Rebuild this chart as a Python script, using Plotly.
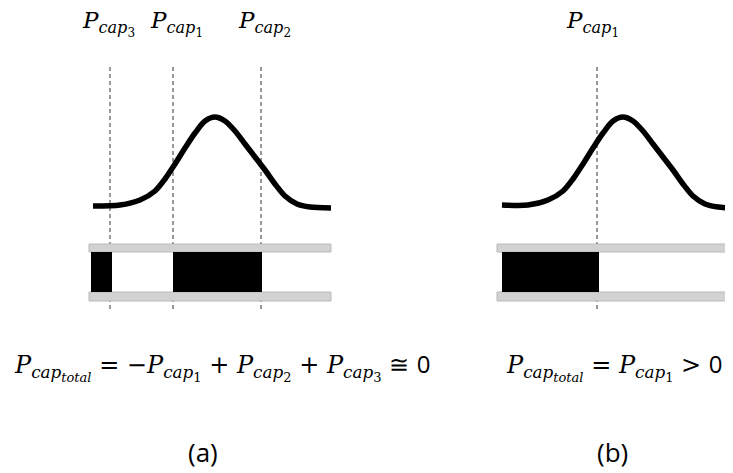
import plotly.graph_objects as go

# ---- data (diagram units = pixels of the 733x473 canvas) ----
curve_a_x = [93, 120, 140, 155, 165, 175, 185, 195, 205, 215, 225, 235, 245, 255, 265, 275, 285, 297, 310, 331]
curve_a_y = [206, 205, 200, 191, 179, 164, 148, 133, 121, 117, 121, 131, 144, 157, 170, 184, 196, 204, 207, 208]
curve_b_x = [502, 528, 548, 563, 573, 583, 593, 603, 613, 623, 633, 643, 653, 663, 673, 683, 693, 705, 718, 732]
curve_b_y = [205, 205, 200, 191, 179, 164, 148, 133, 121, 117, 121, 131, 144, 157, 170, 184, 196, 204, 207, 208]

cut_a = [110, 173, 261]           # dashed cut positions, panel (a)
cut_b = [597]                     # panel (b)
cut_labels_a = ["3", "1", "2"]
cut_labels_b = ["1"]

bar_a = [89, 331]                 # tube extent
bar_b = [497, 733]
black_a = [(91, 112), (173, 262)] # filled segments
black_b = [(502, 599)]

SERIF = "DejaVu Serif"
SANS = "Open Sans"
FS = 23
FS_EQ = 24
OFF = 8  # page body margin

def sub2(s, italic=False, size=12):
    st = f"font-size:{size}px;baseline-shift:-4px"
    if italic:
        st += ";font-style:italic"
    return f'<span style="{st}">{s}</span>'

def plabel(n, size=12):
    return f"<i>P</i><sub><i>cap</i>{sub2(n, size=size)}</sub>"

PT = f"<i>P</i><sub><i>cap</i>{sub2('total', italic=True, size=13)}</sub>"

fig = go.Figure()
for cx, cy in [(curve_a_x, curve_a_y), (curve_b_x, curve_b_y)]:
    fig.add_trace(go.Scatter(x=cx, y=cy, mode="lines",
                             line=dict(color="black", width=5.5, shape="spline", smoothing=0.8),
                             hoverinfo="skip"))

shapes = []
for xc in cut_a + cut_b:
    shapes.append(dict(type="line", x0=xc, x1=xc, y0=67, y1=312, xref="x", yref="y",
                       line=dict(color="#333333", width=1, dash="4px,3px"), layer="below"))

for (x0, x1), blacks in [(bar_a, black_a), (bar_b, black_b)]:
    shapes.append(dict(type="rect", x0=x0, x1=x1, y0=244, y1=301, xref="x", yref="y",
                       fillcolor="white", line=dict(width=0), layer="above"))
    for yy in [(244, 252), (292, 301)]:
        shapes.append(dict(type="rect", x0=x0, x1=x1, y0=yy[0], y1=yy[1], xref="x", yref="y",
                           fillcolor="#d2d2d2", line=dict(color="#bababa", width=1), layer="above"))
    for b0, b1 in blacks:
        shapes.append(dict(type="rect", x0=b0, x1=b1, y0=252, y1=292, xref="x", yref="y",
                           fillcolor="black", line=dict(width=0), layer="above"))

label_shift = {"3": -2, "1": 3, "2": 3}
annotations = []
for xc, lab in zip(cut_a, cut_labels_a):
    annotations.append(dict(x=xc + label_shift[lab], y=23, text=plabel(lab), showarrow=False,
                            font=dict(family=SERIF, size=FS, color="black")))
for xc, lab in zip(cut_b, cut_labels_b):
    annotations.append(dict(x=xc - 5, y=23, text=plabel(lab), showarrow=False,
                            font=dict(family=SERIF, size=FS, color="black")))

eq_a = (PT + " = −" + plabel("1", 13) + " + " + plabel("2", 13) + " + " + plabel("3", 13) +
        f" ≅ <span style=\"font-family:{SANS}\">0</span>")
eq_b = PT + " = " + plabel("1", 13) + f" &gt; <span style=\"font-family:{SANS}\">0</span>"
annotations.append(dict(x=12, y=366, xanchor="left", text=eq_a, showarrow=False,
                        font=dict(family=SERIF, size=FS_EQ, color="black")))
annotations.append(dict(x=504, y=366, xanchor="left", text=eq_b, showarrow=False,
                        font=dict(family=SERIF, size=FS_EQ, color="black")))
annotations.append(dict(x=203, y=452, text="(a)", showarrow=False,
                        font=dict(family=SANS, size=26, color="black")))
annotations.append(dict(x=612, y=452, text="(b)", showarrow=False,
                        font=dict(family=SANS, size=26, color="black")))

fig.update_layout(
    width=733 - OFF, height=473 - OFF, margin=dict(l=0, r=0, t=0, b=0),
    paper_bgcolor="white", plot_bgcolor="white", showlegend=False,
    xaxis=dict(range=[OFF, 733], visible=False, fixedrange=True),
    yaxis=dict(range=[473, OFF], visible=False, fixedrange=True),
    shapes=shapes, annotations=annotations,
)

fig.write_html("out.html", config={"displayModeBar": False})
